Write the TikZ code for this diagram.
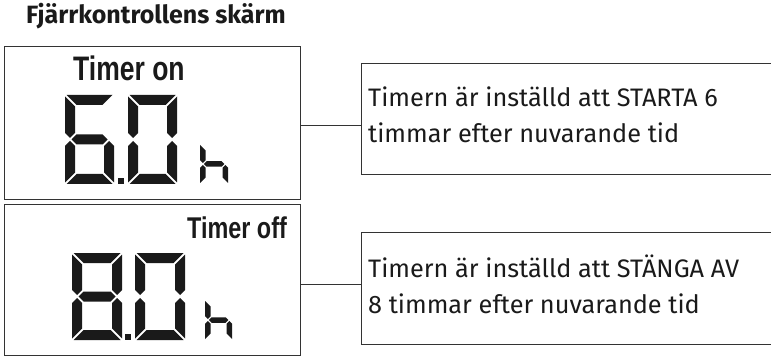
\documentclass[tikz,border=0pt]{standalone}
\usepackage{fontspec}
\setmainfont{Fira Sans}
\newfontfamily\lcdfont{Liberation Sans}
\usepackage{graphicx}
\definecolor{ink}{HTML}{1A1A1A}
\definecolor{linecol}{HTML}{333333}
\tikzset{
  panel/.style={draw=linecol, line width=1.4pt, minimum width=296pt, minimum height=153pt, inner sep=0pt, anchor=north west},
  callout/.style={draw=linecol, line width=1pt, minimum width=430pt, minimum height=111pt, inner sep=0pt, anchor=north west},
  link/.style={draw=linecol, line width=1pt},
  seg/.style={fill=ink, draw=none},
  bodytext/.style={font=\fontsize{25.3}{30}\selectfont, text=ink, anchor=base west, inner sep=0pt},
  lcdtext/.style={text=ink, anchor=base west, inner sep=0pt},
}
% seven segment pieces (local coords, y downwards)
\newcommand\segA{\fill[seg] (\D,0) -- (\W-\D,0) -- (\W-\T-\D,\T) -- (\T+\D,\T) -- cycle;}
\newcommand\segD{\fill[seg] (\D,\H) -- (\W-\D,\H) -- (\W-\T-\D,\H-\T) -- (\T+\D,\H-\T) -- cycle;}
\newcommand\segF{\fill[seg] (0,\D) -- (\T,\T+\D) -- (\T,\H/2-\T/2-\D) -- (\T/2,\H/2-\D) -- (0,\H/2-\T/2-\D) -- cycle;}
\newcommand\segB{\fill[seg] (\W,\D) -- (\W-\T,\T+\D) -- (\W-\T,\H/2-\T/2-\D) -- (\W-\T/2,\H/2-\D) -- (\W,\H/2-\T/2-\D) -- cycle;}
\newcommand\segE{\fill[seg] (0,\H-\D) -- (\T,\H-\T-\D) -- (\T,\H/2+\T/2+\D) -- (\T/2,\H/2+\D) -- (0,\H/2+\T/2+\D) -- cycle;}
\newcommand\segC{\fill[seg] (\W,\H-\D) -- (\W-\T,\H-\T-\D) -- (\W-\T,\H/2+\T/2+\D) -- (\W-\T/2,\H/2+\D) -- (\W,\H/2+\T/2+\D) -- cycle;}
\newcommand\segG{\fill[seg] (\T/2+\D,\H/2) -- (\T+\D,\H/2-\T/2) -- (\W-\T-\D,\H/2-\T/2) -- (\W-\T/2-\D,\H/2) -- (\W-\T-\D,\H/2+\T/2) -- (\T+\D,\H/2+\T/2) -- cycle;}
% \lcddigit{x}{y}{W}{H}{T}{D}{segment commands}
\newcommand\lcddigit[7]{%
  \begin{scope}[shift={(#1,#2)}]
    \def\W{#3}\def\H{#4}\def\T{#5}\def\D{#6}%
    #7
  \end{scope}}
\begin{document}
\begin{tikzpicture}[x=1pt,y=-1pt]
\useasboundingbox (0,0) rectangle (771,358);

\node[font=\fontsize{25}{28}\bfseries\selectfont, text=ink, anchor=base west, inner sep=0pt] (title) at (26,24) {Fjärrkontrollens skärm};

% panels
\node[panel] (p1) at (4,46) {};
\node[panel, minimum height=151pt] (p2) at (4,204) {};

% callouts
\node[callout] (c1) at (361,63) {};
\node[callout, minimum height=112pt] (c2) at (361,232) {};

\coordinate (j1) at (0,126);
\coordinate (j2) at (0,284);
\draw[link] (p1.east |- j1) -- (c1.west |- j1);
\draw[link] (p2.east |- j2) -- (c2.west |- j2);

% callout texts
\node[bodytext] (t1a) at (368,107) {Timern är inställd att STARTA 6};
\node[bodytext] (t1b) at (368,143) {timmar efter nuvarande tid};
\node[bodytext] (t2a) at (368,277) {Timern är inställd att STÄNGA AV};
\node[bodytext] (t2b) at (368,313) {8 timmar efter nuvarande tid};

% LCD labels
\node[lcdtext] (on) at (73,81) {\scalebox{0.78}[1]{\lcdfont\bfseries\fontsize{34}{36}\selectfont Timer on}};
\node[lcdtext] (off) at (187,239) {\scalebox{0.78}[1]{\lcdfont\bfseries\fontsize{30}{32}\selectfont Timer off}};

% panel 1 digits: 6.0 h
\lcddigit{65}{95}{49}{89}{10}{1.5}{\segA\segF\segG\segE\segD\segC}
\fill[seg] (118,178) rectangle (124,184);
\lcddigit{128}{95}{49}{89}{10}{1.5}{\segA\segB\segC\segD\segE\segF}
\lcddigit{200}{144}{28}{40}{5.5}{1}{\segF\segE\segG\segC}

% panel 2 digits: 8.0 h
\lcddigit{72}{253}{50}{87}{10}{1.5}{\segA\segB\segC\segD\segE\segF\segG}
\fill[seg] (125,334) rectangle (131,340);
\lcddigit{135}{253}{50}{87}{10}{1.5}{\segA\segB\segC\segD\segE\segF}
\lcddigit{205}{300}{27}{40}{5.5}{1}{\segF\segE\segG\segC}
\end{tikzpicture}
\end{document}
